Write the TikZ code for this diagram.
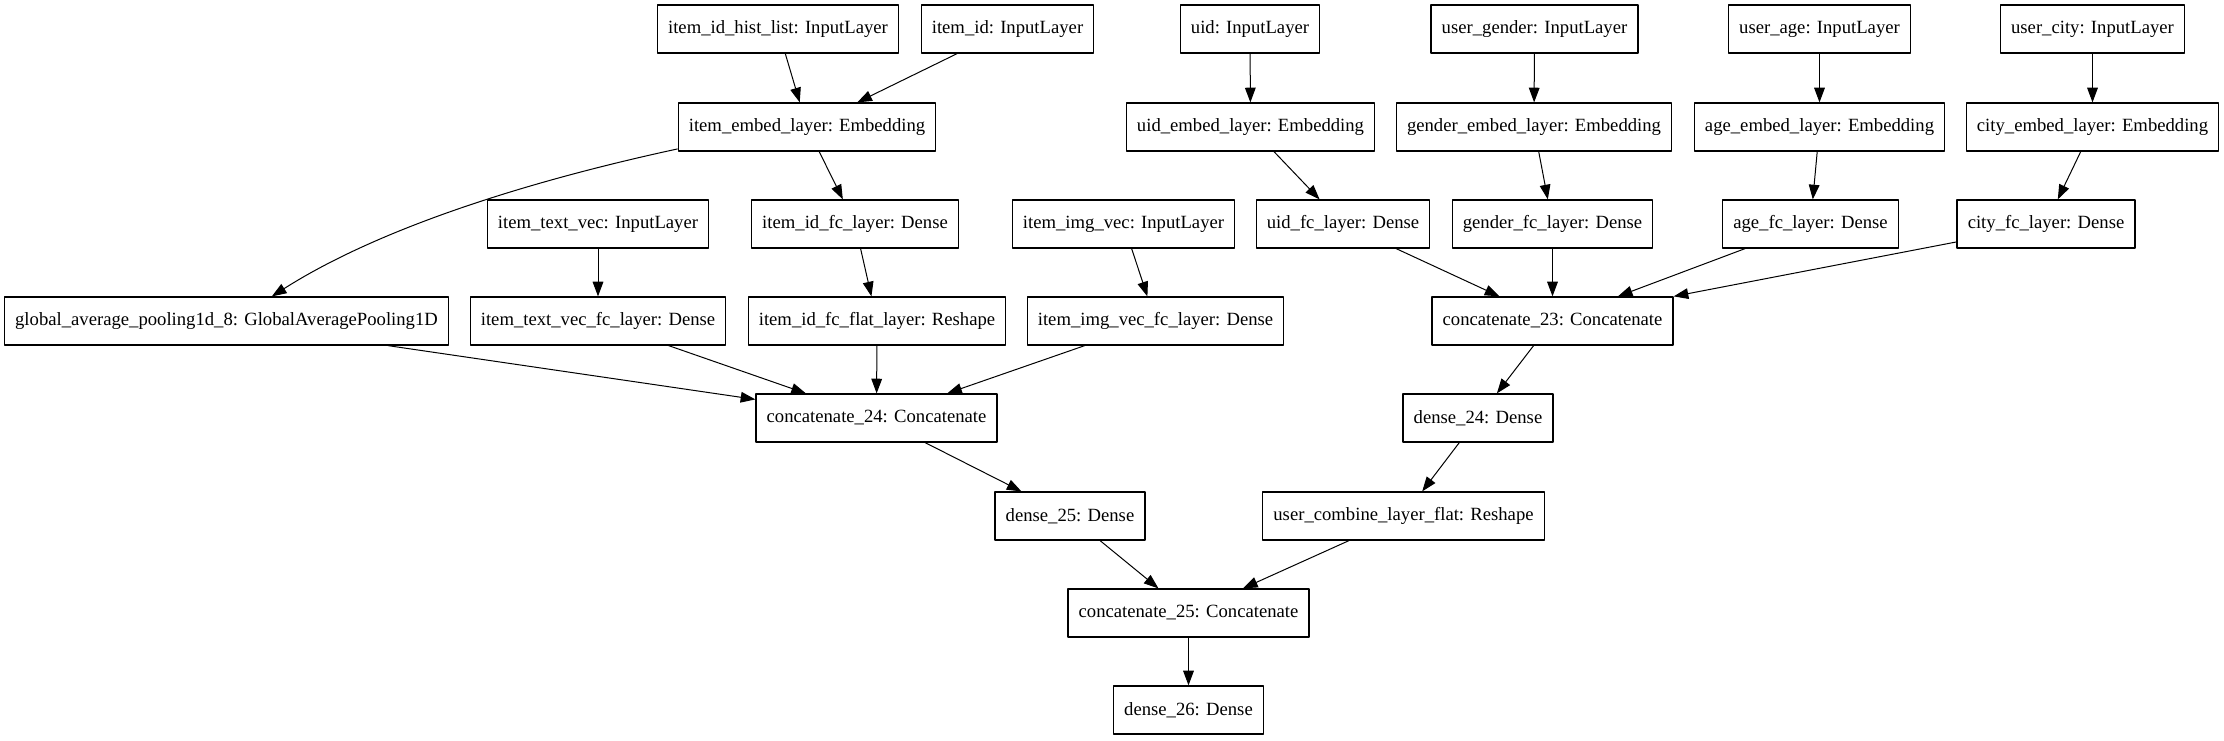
\documentclass[tikz,border=0pt]{standalone}
\usepackage{fontspec}
\setmainfont{Liberation Serif}
\usetikzlibrary{arrows.meta}
\begin{document}
\begin{tikzpicture}[x=0.75pt,y=-0.75pt,line join=round,>={Triangle[length=11pt,width=8pt]},
    font=\fontsize{14pt}{16pt}\selectfont,
    layerbox/.style={draw,line width=0.9pt,minimum height=36pt,inner xsep=8pt,inner ysep=0pt},
    flow/.style={->,line width=0.75pt}]
    \useasboundingbox (0,0) rectangle (2224,741);
    % inputs
    \node[layerbox] (hist) at (778,29) {item\_id\_hist\_list: InputLayer};
    \node[layerbox] (iid) at (1007.5,29) {item\_id: InputLayer};
    \node[layerbox] (uid) at (1250,29) {uid: InputLayer};
    \node[layerbox] (ugender) at (1534.5,29) {user\_gender: InputLayer};
    \node[layerbox] (uage) at (1819.5,29) {user\_age: InputLayer};
    \node[layerbox] (ucity) at (2092.5,29) {user\_city: InputLayer};
    % embeddings
    \node[layerbox] (iembed) at (807,127) {item\_embed\_layer: Embedding};
    \node[layerbox] (uidembed) at (1250.5,127) {uid\_embed\_layer: Embedding};
    \node[layerbox] (gembed) at (1534,127) {gender\_embed\_layer: Embedding};
    \node[layerbox] (aembed) at (1819.5,127) {age\_embed\_layer: Embedding};
    \node[layerbox] (cembed) at (2092.5,127) {city\_embed\_layer: Embedding};
    % dense
    \node[layerbox] (itext) at (598,224) {item\_text\_vec: InputLayer};
    \node[layerbox] (iidfc) at (855,224) {item\_id\_fc\_layer: Dense};
    \node[layerbox] (iimg) at (1123.5,224) {item\_img\_vec: InputLayer};
    \node[layerbox] (uidfc) at (1343,224) {uid\_fc\_layer: Dense};
    \node[layerbox] (gfc) at (1552.5,224) {gender\_fc\_layer: Dense};
    \node[layerbox] (afc) at (1810.5,224) {age\_fc\_layer: Dense};
    \node[layerbox] (cfc) at (2046,224) {city\_fc\_layer: Dense};
    \node[layerbox] (gap) at (226.5,321) {global\_average\_pooling1d\_8: GlobalAveragePooling1D};
    \node[layerbox] (itextfc) at (598,321) {item\_text\_vec\_fc\_layer: Dense};
    \node[layerbox] (iidflat) at (877,321) {item\_id\_fc\_flat\_layer: Reshape};
    \node[layerbox] (iimgfc) at (1155.5,321) {item\_img\_vec\_fc\_layer: Dense};
    \node[layerbox] (cat23) at (1552.5,321) {concatenate\_23: Concatenate};
    % merge
    \node[layerbox] (cat24) at (876.5,418) {concatenate\_24: Concatenate};
    \node[layerbox] (dense24) at (1478,418) {dense\_24: Dense};
    \node[layerbox] (dense25) at (1070,516) {dense\_25: Dense};
    \node[layerbox] (ucomb) at (1403.5,516) {user\_combine\_layer\_flat: Reshape};
    \node[layerbox] (cat25) at (1188.5,613) {concatenate\_25: Concatenate};
    \node[layerbox] (dense26) at (1188.5,710) {dense\_26: Dense};

    \draw[flow] (hist) -- (iembed);
    \draw[flow] (iid) -- (iembed);
    \draw[flow] (uid) -- (uidembed);
    \draw[flow] (ugender) -- (gembed);
    \draw[flow] (uage) -- (aembed);
    \draw[flow] (ucity) -- (cembed);
    \draw[flow] ([yshift=2pt]iembed.south west) .. controls (580,170) and (400,215) .. ([xshift=34pt]gap.north);
    \draw[flow] (iembed) -- (iidfc);
    \draw[flow] (uidembed) -- (uidfc);
    \draw[flow] (gembed) -- (gfc);
    \draw[flow] (aembed) -- (afc);
    \draw[flow] (cembed) -- (cfc);
    \draw[flow] (itext) -- (itextfc);
    \draw[flow] (iidfc) -- (iidflat);
    \draw[flow] (iimg) -- (iimgfc);
    \draw[flow] (uidfc) -- (cat23);
    \draw[flow] (gfc) -- (cat23);
    \draw[flow] (afc) -- (cat23);
    \draw[flow] ([yshift=5pt]cfc.south west) -- (cat23.north east);
    \draw[flow] ([xshift=121pt]gap.south) -- ([yshift=-4.5pt]cat24.north west);
    \draw[flow] (itextfc) -- (cat24);
    \draw[flow] (iidflat) -- (cat24);
    \draw[flow] (iimgfc) -- (cat24);
    \draw[flow] (cat23) -- (dense24);
    \draw[flow] (cat24) -- (dense25);
    \draw[flow] (dense24) -- (ucomb);
    \draw[flow] (dense25) -- (cat25);
    \draw[flow] (ucomb) -- (cat25);
    \draw[flow] (cat25) -- (dense26);
\end{tikzpicture}
\end{document}
